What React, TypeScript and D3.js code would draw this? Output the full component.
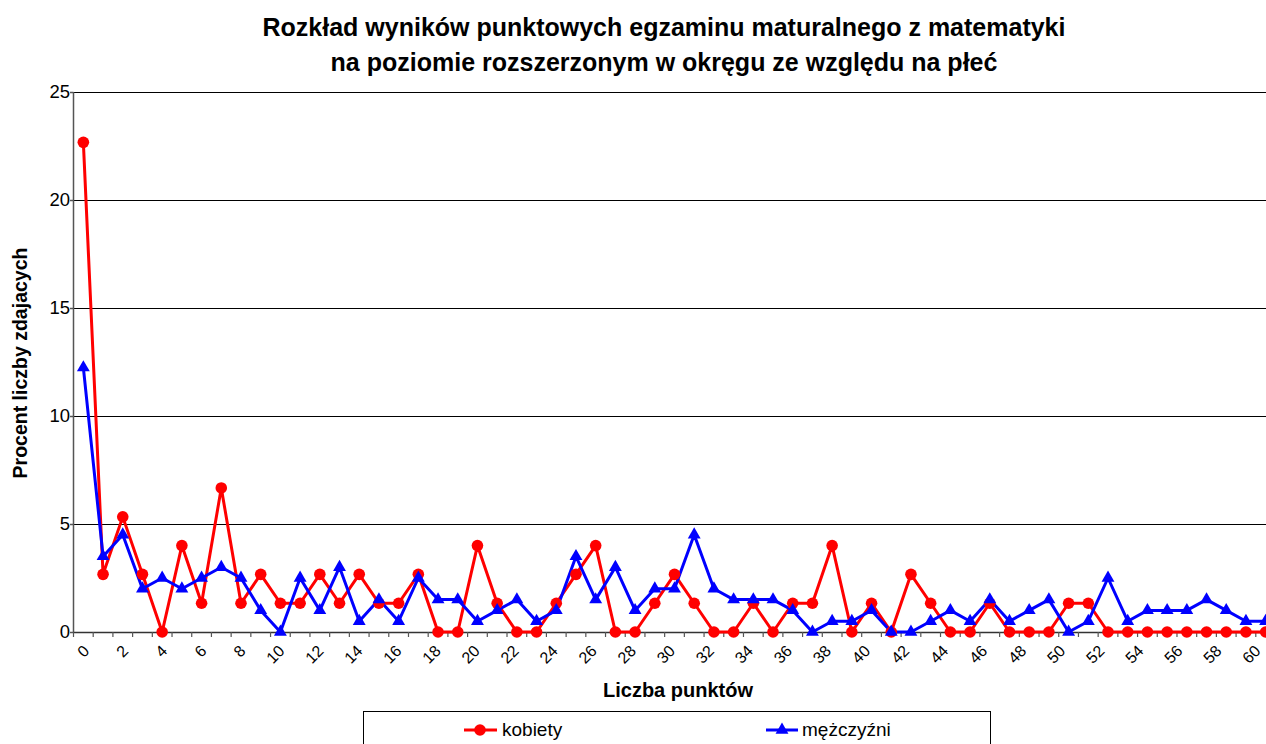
import React from "react";
import * as d3 from "d3";

const points: number[] = d3.range(0, 61);
const kobiety: number[] = [
  22.67, 2.67, 5.33, 2.67, 0, 4.0, 1.33, 6.67, 1.33, 2.67,
  1.33, 1.33, 2.67, 1.33, 2.67, 1.33, 1.33, 2.67, 0, 0,
  4.0, 1.33, 0, 0, 1.33, 2.67, 4.0, 0, 0, 1.33,
  2.67, 1.33, 0, 0, 1.33, 0, 1.33, 1.33, 4.0, 0,
  1.33, 0, 2.67, 1.33, 0, 0, 1.33, 0, 0, 0,
  1.33, 1.33, 0, 0, 0, 0, 0, 0, 0, 0, 0,
];
const mezczyzni: number[] = [
  12.24, 3.5, 4.5, 2.0, 2.5, 2.0, 2.5, 3.0, 2.5, 1.0,
  0, 2.5, 1.0, 3.0, 0.5, 1.5, 0.5, 2.5, 1.5, 1.5,
  0.5, 1.0, 1.5, 0.5, 1.0, 3.5, 1.5, 3.0, 1.0, 2.0,
  2.0, 4.5, 2.0, 1.5, 1.5, 1.5, 1.0, 0, 0.5, 0.5,
  1.0, 0, 0, 0.5, 1.0, 0.5, 1.5, 0.5, 1.0, 1.5,
  0, 0.5, 2.5, 0.5, 1.0, 1.0, 1.0, 1.5, 1.0, 0.5, 0.5,
];
const yTicks: number[] = [0, 5, 10, 15, 20, 25];
const xTickLabels: number[] = d3.range(0, 61, 2);
const titleLines: string[] = [
  "Rozkład wyników punktowych egzaminu maturalnego z matematyki",
  "na poziomie rozszerzonym w okręgu ze względu na płeć",
];
const seriesNames: string[] = ["kobiety", "mężczyźni"];

const W = 1266;
const H = 744;
const FONT = "Liberation Sans, Arial, sans-serif";

export default function App() {
  const x = d3.scaleBand<number>().domain(points).range([73.5, 1275.5]).padding(0);
  const cx = (d: number) => (x(d) as number) + x.bandwidth() / 2;
  const y = d3.scaleLinear().domain([0, 25]).range([632, 92]);
  // tick labels sit on a slightly narrower spacing than the points
  const labelX = d3.scaleLinear().domain([0, 60]).range([cx(0) + 3, cx(60) - 8]);

  const line = d3
    .line<number>()
    .x((_, i) => cx(points[i]))
    .y((v) => y(v));

  const tri = d3.symbol().type(d3.symbolTriangle).size(72)() as string;

  return (
    <svg
      width={W}
      height={H}
      style={{ position: "absolute", left: 0, top: 0, background: "#fff" }}
      fontFamily={FONT}
    >
      <rect x={0} y={0} width={W} height={H} fill="#fff" />
      {/* title */}
      {titleLines.map((t, i) => (
        <text
          key={i}
          x={664}
          y={36 + i * 35}
          textAnchor="middle"
          fontWeight="bold"
          fontSize={25}
          fill="#000"
        >
          {t}
        </text>
      ))}
      {/* gridlines */}
      {yTicks.filter((t) => t > 0).map((t) => (
        <line key={t} x1={73.5} x2={1280} y1={y(t) + 0.5} y2={y(t) + 0.5} stroke="#000" strokeWidth={1} />
      ))}
      {/* y axis */}
      <line x1={73.5} x2={73.5} y1={y(25)} y2={y(0) + 0.5} stroke="#555" strokeWidth={1.5} />
      {yTicks.map((t) => (
        <g key={t}>
          <line x1={70} x2={73.5} y1={y(t) + 0.5} y2={y(t) + 0.5} stroke="#555" strokeWidth={1.5} />
          <text x={70} y={y(t)} dy="0.35em" textAnchor="end" fontSize={18.5} fill="#000">
            {t}
          </text>
        </g>
      ))}
      {/* x axis */}
      <line x1={73.5} x2={1280} y1={y(0) + 0.5} y2={y(0) + 0.5} stroke="#333" strokeWidth={1.5} />
      {points.map((p) => (
        <line
          key={p}
          x1={x(p) as number}
          x2={x(p) as number}
          y1={y(0)}
          y2={y(0) + 5}
          stroke="#555"
          strokeWidth={1.2}
        />
      ))}
      {xTickLabels.map((p) => (
        <text
          key={p}
          transform={`translate(${labelX(p)},${y(0) + 16}) rotate(-45)`}
          textAnchor="end"
          dy="0.35em"
          fontSize={16}
          fill="#000"
        >
          {p}
        </text>
      ))}
      {/* axis titles */}
      <text x={678} y={697} textAnchor="middle" fontWeight="bold" fontSize={20} fill="#000">
        Liczba punktów
      </text>
      <text
        transform={`translate(27,${363}) rotate(-90)`}
        textAnchor="middle"
        fontWeight="bold"
        fontSize={19.5}
        fill="#000"
      >
        Procent liczby zdajacych
      </text>
      {/* series */}
      <path d={line(kobiety) as string} fill="none" stroke="#FF0000" strokeWidth={3} strokeLinejoin="round" />
      <path d={line(mezczyzni) as string} fill="none" stroke="#0000FF" strokeWidth={3} strokeLinejoin="round" />
      {kobiety.map((v, i) => (
        <circle key={i} cx={cx(points[i])} cy={y(v)} r={5.8} fill="#FF0000" />
      ))}
      {mezczyzni.map((v, i) => (
        <path key={i} d={tri} transform={`translate(${cx(points[i])},${y(v)})`} fill="#0000FF" />
      ))}
      {/* legend */}
      <rect x={363.5} y={711.5} width={627} height={40} fill="#fff" stroke="#000" strokeWidth={1} />
      <line x1={464} x2={497} y1={730} y2={730} stroke="#FF0000" strokeWidth={3} />
      <circle cx={480} cy={730} r={5.8} fill="#FF0000" />
      <text x={502} y={736} fontSize={19} fill="#000">{seriesNames[0]}</text>
      <line x1={766} x2={798} y1={730} y2={730} stroke="#0000FF" strokeWidth={3} />
      <path d={tri} transform={`translate(782,730)`} fill="#0000FF" />
      <text x={802} y={736} fontSize={19} fill="#000">{seriesNames[1]}</text>
    </svg>
  );
}
